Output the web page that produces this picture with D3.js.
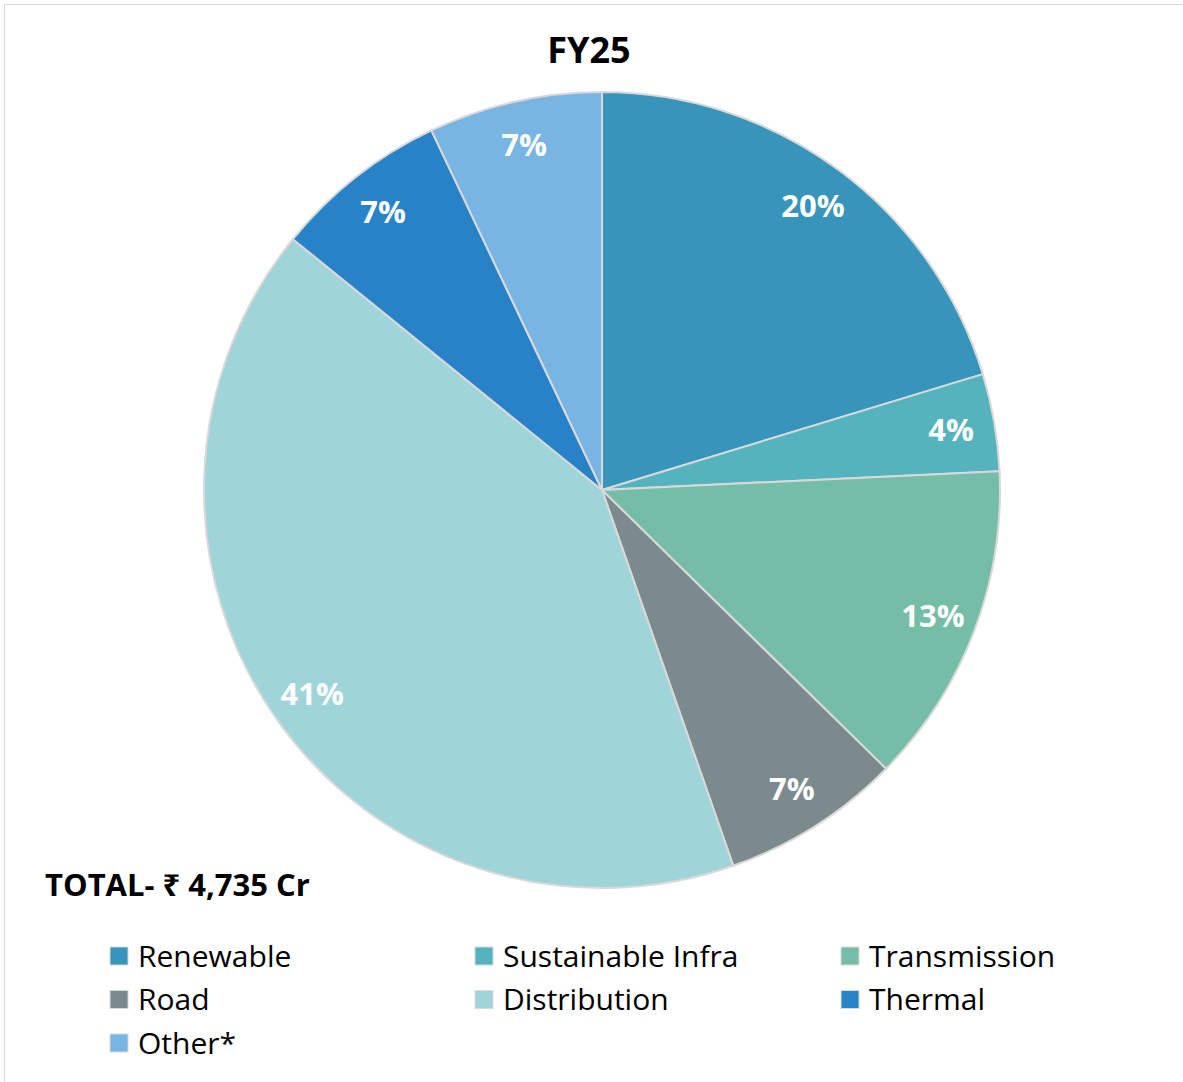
<!DOCTYPE html>
<html>
<head>
<meta charset="utf-8">
<script src="https://cdn.jsdelivr.net/npm/d3@7"></script>
<style>
  body { margin: 0; background: #fff; }
  svg text { font-family: "Open Sans", "Noto Sans", sans-serif; }
</style>
</head>
<body>
<svg id="chart"></svg>
<script>
// segment shares (percent of total)
const segments = ['Renewable', 'Sustainable Infra', 'Transmission', 'Road', 'Distribution', 'Thermal', 'Other*'];
const shares = [20.3, 3.95, 13.1, 7.3, 41.2, 7.1, 7.05];
const shareLabels = ['20%', '4%', '13%', '7%', '41%', '7%', '7%'];
const colours = ['#3794bb', '#55b3be', '#75bda7', '#7b8b8d', '#9fd4d9', '#2882c8', '#78b5e3'];
const title = 'FY25';
const totalText = 'TOTAL- \u20B9 4,735 Cr';

const W = 1183, H = 1082;
const cx = 602, cy = 490, R = 398;

let svg = d3.select('#chart')
  .attr('width', W)
  .attr('height', H);

// outer frame of the chart area
svg.append('rect')
  .attr('x', 4.5).attr('y', 4.5)
  .attr('width', W + 10).attr('height', H + 10)
  .style('fill', 'none')
  .style('stroke', '#d9d9d9')
  .style('stroke-width', 1);

svg.append('text')
  .attr('x', 589).attr('y', 63)
  .attr('text-anchor', 'middle')
  .style('font-size', '36px')
  .style('font-weight', 'bold')
  .text(title);

let colour = d3.scaleOrdinal().domain(segments).range(colours);

let pie = d3.pie().sort(null).value(d => d.value);
let data = segments.map((s, i) => ({name: s, value: shares[i], label: shareLabels[i]}));
let arcs = pie(data);

let arc = d3.arc().innerRadius(0).outerRadius(R);
let labelArc = d3.arc().innerRadius(R * 0.89).outerRadius(R * 0.89);

let g = svg.append('g').attr('transform', `translate(${cx},${cy})`);

g.selectAll('path')
  .data(arcs)
  .enter()
  .append('path')
  .attr('d', arc)
  .style('fill', d => colour(d.data.name))
  .style('stroke', '#d9d9d9')
  .style('stroke-width', 2);

g.selectAll('text')
  .data(arcs)
  .enter()
  .append('text')
  .attr('transform', d => `translate(${labelArc.centroid(d)})`)
  .attr('text-anchor', 'middle')
  .attr('dy', '0.36em')
  .style('fill', '#fff')
  .style('font-size', '31px')
  .style('font-weight', 'bold')
  .text(d => d.data.label);

svg.append('text')
  .attr('x', 45).attr('y', 896)
  .style('font-size', '31px')
  .style('font-weight', 'bold')
  .text(totalText);

// legend, three columns
let legend = svg.append('g');
let item = legend.selectAll('g')
  .data(segments)
  .enter()
  .append('g')
  .attr('transform', (d, i) => `translate(${[110, 475, 841][i % 3]},${947 + Math.floor(i / 3) * 43.5})`);

item.append('rect')
  .attr('width', 18).attr('height', 18)
  .style('fill', d => colour(d))
  .style('stroke', '#d9d9d9')
  .style('stroke-width', 1);

item.append('text')
  .attr('x', 28).attr('y', 9)
  .attr('dy', '0.36em')
  .style('font-size', '30px')
  .text(d => d);
</script>
</body>
</html>
